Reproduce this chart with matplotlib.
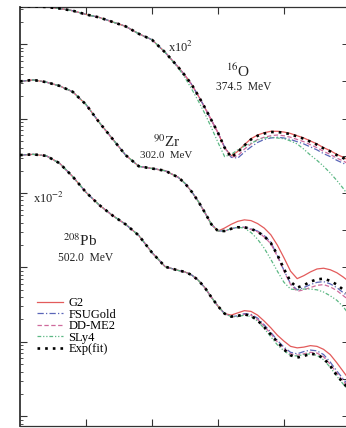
import numpy as np
import matplotlib
matplotlib.use("Agg")
import matplotlib.pyplot as plt
from matplotlib.ticker import LogLocator, NullFormatter, FixedLocator

plt.rcParams['font.family'] = ['Liberation Serif', 'DejaVu Serif']
plt.rcParams['mathtext.fontset'] = 'stix'

# scattering angle (deg): 2 deg steps, then 1 deg steps through the diffraction region
angle = [20, 22, 24, 26, 28, 30, 32, 34, 36, 38, 40, 42] + list(range(44, 71))

# log10 of the (scaled) cross sections
# forward part (20-42 deg) is common to all curves of a nucleus
o16_head = [-4.49, -4.49, -4.50, -4.52, -4.55, -4.60, -4.64, -4.70, -4.76, -4.86, -4.94, -5.11]
zr90_head = [-5.50, -5.48, -5.51, -5.56, -5.64, -5.81, -6.05, -6.27, -6.49, -6.64, -6.67, -6.70]
pb208_head = [-6.49, -6.48, -6.50, -6.60, -6.78, -6.99, -7.16, -7.30, -7.42, -7.57, -7.80, -7.99]

o16_exp = o16_head + [-5.31, -5.42, -5.54, -5.69, -5.85, -6.02, -6.19, -6.39, -6.52, -6.45, -6.36, -6.28, -6.23, -6.20,
                      -6.18, -6.18, -6.19, -6.21, -6.24, -6.27, -6.31, -6.35, -6.40, -6.44, -6.49, -6.53, -6.58]
o16_g2 = o16_head + [-5.31, -5.42, -5.54, -5.69, -5.85, -6.02, -6.19, -6.39, -6.50, -6.44, -6.35, -6.27, -6.22, -6.19,
                     -6.17, -6.17, -6.18, -6.20, -6.23, -6.26, -6.30, -6.34, -6.39, -6.43, -6.48, -6.52, -6.57]
o16_fsu = o16_head + [-5.31, -5.42, -5.54, -5.69, -5.85, -6.02, -6.19, -6.38, -6.52, -6.53, -6.45, -6.38, -6.32, -6.28,
                      -6.26, -6.25, -6.26, -6.28, -6.31, -6.34, -6.38, -6.42, -6.47, -6.51, -6.56, -6.60, -6.65]
o16_ddme2 = o16_head + [-5.31, -5.42, -5.54, -5.69, -5.85, -6.02, -6.19, -6.39, -6.52, -6.50, -6.41, -6.34, -6.28, -6.25,
                        -6.23, -6.22, -6.23, -6.25, -6.28, -6.31, -6.35, -6.39, -6.44, -6.48, -6.53, -6.57, -6.62]
o16_sly4 = o16_head + [-5.32, -5.45, -5.60, -5.76, -5.93, -6.12, -6.32, -6.51, -6.48, -6.42, -6.37, -6.33, -6.29, -6.26,
                       -6.25, -6.26, -6.27, -6.30, -6.34, -6.41, -6.49, -6.56, -6.64, -6.73, -6.83, -6.94, -7.07]

zr90_exp = zr90_head + [-6.79, -6.87, -6.98, -7.11, -7.26, -7.42, -7.51, -7.51, -7.48, -7.46, -7.46, -7.48, -7.52, -7.58,
                        -7.67, -7.83, -8.02, -8.19, -8.27, -8.24, -8.19, -8.16, -8.15, -8.18, -8.23, -8.30, -8.37]
zr90_g2 = zr90_head + [-6.79, -6.87, -6.98, -7.11, -7.26, -7.42, -7.51, -7.47, -7.42, -7.38, -7.36, -7.37, -7.41, -7.47,
                       -7.56, -7.70, -7.87, -8.05, -8.15, -8.11, -8.06, -8.02, -8.01, -8.03, -8.07, -8.13, -8.20]
zr90_fsu = zr90_head + [-6.79, -6.87, -6.98, -7.11, -7.26, -7.42, -7.51, -7.51, -7.48, -7.46, -7.46, -7.48, -7.51, -7.57,
                        -7.66, -7.84, -8.04, -8.22, -8.30, -8.27, -8.23, -8.20, -8.19, -8.22, -8.27, -8.34, -8.41]
zr90_ddme2 = zr90_head + [-6.79, -6.87, -6.98, -7.11, -7.26, -7.42, -7.51, -7.51, -7.48, -7.46, -7.46, -7.49, -7.52, -7.59,
                          -7.68, -7.85, -8.05, -8.23, -8.32, -8.30, -8.27, -8.24, -8.23, -8.26, -8.31, -8.38, -8.45]
zr90_sly4 = zr90_head + [-6.79, -6.87, -6.98, -7.11, -7.26, -7.42, -7.51, -7.51, -7.48, -7.46, -7.47, -7.53, -7.62, -7.74,
                         -7.89, -8.05, -8.20, -8.29, -8.30, -8.29, -8.29, -8.30, -8.33, -8.38, -8.44, -8.53, -8.65]

pb208_exp = pb208_head + [-8.04, -8.06, -8.10, -8.17, -8.27, -8.40, -8.52, -8.62, -8.66, -8.65, -8.63, -8.65, -8.71, -8.80,
                          -8.90, -9.00, -9.10, -9.18, -9.21, -9.19, -9.16, -9.17, -9.22, -9.32, -9.45, -9.55, -9.66]
pb208_g2 = pb208_head + [-8.04, -8.06, -8.10, -8.17, -8.27, -8.40, -8.52, -8.62, -8.64, -8.61, -8.58, -8.59, -8.64, -8.72,
                         -8.81, -8.91, -8.99, -9.06, -9.08, -9.07, -9.05, -9.06, -9.10, -9.17, -9.28, -9.40, -9.52]
pb208_fsu = pb208_head + [-8.04, -8.06, -8.10, -8.17, -8.27, -8.40, -8.52, -8.62, -8.66, -8.65, -8.62, -8.63, -8.68, -8.77,
                          -8.87, -8.98, -9.07, -9.14, -9.16, -9.13, -9.11, -9.12, -9.17, -9.27, -9.39, -9.50, -9.61]
pb208_ddme2 = pb208_head + [-8.04, -8.06, -8.10, -8.17, -8.27, -8.40, -8.52, -8.62, -8.66, -8.66, -8.63, -8.64, -8.70, -8.79,
                            -8.89, -9.00, -9.09, -9.16, -9.18, -9.16, -9.14, -9.15, -9.20, -9.30, -9.42, -9.53, -9.64]
pb208_sly4 = pb208_head + [-8.04, -8.06, -8.10, -8.17, -8.27, -8.40, -8.52, -8.62, -8.66, -8.66, -8.64, -8.66, -8.72, -8.82,
                           -8.93, -9.04, -9.12, -9.18, -9.19, -9.17, -9.16, -9.18, -9.24, -9.34, -9.46, -9.57, -9.68]

nuclei = [
    (o16_g2, o16_fsu, o16_ddme2, o16_sly4, o16_exp),
    (zr90_g2, zr90_fsu, zr90_ddme2, zr90_sly4, zr90_exp),
    (pb208_g2, pb208_fsu, pb208_ddme2, pb208_sly4, pb208_exp),
]
labels = ["G2", "FSUGold", "DD-ME2", "SLy4", "Exp(fit)"]
colors = ["#e35b5b", "#5a66b8", "#cf6a9c", "#5cb884", "black"]
styles = ["-", (0, (5, 1.8, 1, 1.8)), (0, (3.5, 2)), (0, (3, 1.5, 1, 1.5, 1, 1.5)), (0, (1, 1.9))]
widths = [0.9, 0.9, 0.9, 0.9, 1.9]

fig = plt.figure(figsize=(3.46, 4.28), dpi=100)
ax = fig.add_axes([20 / 346, 2 / 428, 328 / 346, 419 / 428])

x = np.array(angle)
for curves in nuclei:
    for i, vals in enumerate(curves):
        ax.plot(x, 10 ** np.array(vals), color=colors[i], linestyle=styles[i],
                linewidth=widths[i], zorder=3 if i == 4 else 2, label=labels[i])

ax.set_yscale("log")
ax.set_xlim(20, 69.7)
ax.set_ylim(10 ** -10.13, 10 ** -4.50)

ax.xaxis.set_major_locator(FixedLocator([30, 40, 50, 60]))
ax.yaxis.set_major_locator(LogLocator(base=10, numticks=20))
ax.yaxis.set_minor_locator(LogLocator(base=10, subs=np.arange(2, 10), numticks=20))
ax.xaxis.set_major_formatter(NullFormatter())
ax.yaxis.set_major_formatter(NullFormatter())
ax.yaxis.set_minor_formatter(NullFormatter())
ax.tick_params(which="both", direction="in", top=True, right=False, color="#333333")
ax.tick_params(which="major", length=5, width=0.8)
ax.tick_params(which="minor", length=2.5, width=0.6)
for s in ax.spines.values():
    s.set_linewidth(0.9)
    s.set_color("#333333")
ax.spines["left"].set_linewidth(1.3)

sec = ax.secondary_yaxis("right")
sec.yaxis.set_major_locator(FixedLocator(10 ** np.arange(-10, -4.4, 0.5)))
sec.yaxis.set_minor_locator(FixedLocator([]))
sec.yaxis.set_major_formatter(NullFormatter())
sec.tick_params(direction="in", length=4, width=0.7, color="#333333")

# annotations
ax.text(42.4, 10 ** -5.11, r"x10$^{2}$", fontsize=9, va="baseline", color="#222222")
ax.text(51.2, 10 ** -5.44, r"$^{16}$O", fontsize=11, va="baseline", color="#222222")
ax.text(49.7, 10 ** -5.62, "374.5  MeV", fontsize=8.3, va="baseline", color="#222222")
ax.text(40.2, 10 ** -6.38, r"$^{90}$Zr", fontsize=11, va="baseline", color="#222222")
ax.text(38.2, 10 ** -6.53, "302.0  MeV", fontsize=7.8, va="baseline", color="#222222")
ax.text(22.0, 10 ** -7.13, r"x10$^{-2}$", fontsize=9, va="baseline", color="#222222")
ax.text(26.5, 10 ** -7.71, r"$^{208}$Pb", fontsize=11, va="baseline", color="#222222")
ax.text(25.8, 10 ** -7.91, "502.0  MeV", fontsize=8.3, va="baseline", color="#222222")

handles = ax.get_lines()[-5:]
ax.legend(handles=handles, labels=labels, loc="upper left", bbox_to_anchor=(0.052, 0.307),
          frameon=False, fontsize=9, handlelength=2.1, handletextpad=0.4,
          labelspacing=-0.04, borderpad=0, borderaxespad=0)

fig.savefig("out.png", dpi=100)
